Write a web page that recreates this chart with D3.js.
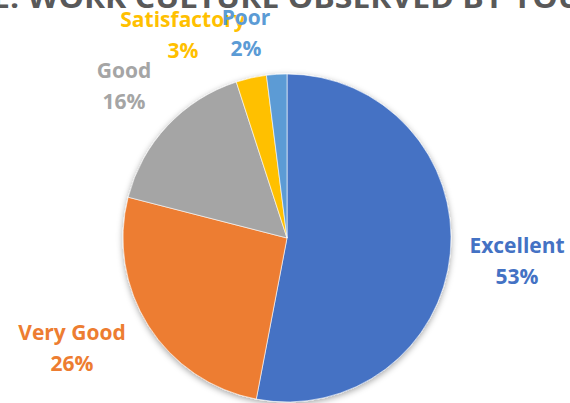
<!DOCTYPE html>
<html>
<head>
<meta charset="utf-8">
<script src="https://cdn.jsdelivr.net/npm/d3@7"></script>
<style>
  html, body { margin: 0; padding: 0; background: #fff; }
  svg { display: block; }
</style>
</head>
<body>
<svg id="chart" width="570" height="403"></svg>
<script>
// ---- data ----
const categories = ["Excellent", "Very Good", "Good", "Satisfactory", "Poor"];
const values = [53, 26, 16, 3, 2];
const percentLabels = ["53%", "26%", "16%", "3%", "2%"];
const titleText = "E: WORK CULTURE OBSERVED BY YOU";

// ---- styling / layout ----
const colors = ["#4472C4", "#ED7D31", "#A5A5A5", "#FFC000", "#5B9BD5"];
const W = 570, H = 403;
const cx = 287, cy = 238, R = 164;
// label centers (x, y of first line baseline)
const labelAnchors = [[517, 253], [72, 340], [124, 78], [183, 27], [246, 25]];

const svg = d3.select("#chart");
const defs = svg.append("defs");
const f = defs.append("filter").attr("id", "shadow")
  .attr("x", "-20%").attr("y", "-20%").attr("width", "140%").attr("height", "140%");
f.append("feDropShadow").attr("dx", 0).attr("dy", 2).attr("stdDeviation", 3)
  .attr("flood-color", "#000").attr("flood-opacity", 0.35);

// title (cut off at the top in the reference)
svg.append("text")
  .attr("x", -8).attr("y", 8)
  .attr("textLength", 590).attr("lengthAdjust", "spacingAndGlyphs")
  .attr("font-family", "'Open Sans', Lato, sans-serif")
  .attr("font-weight", 700).attr("font-size", 28)
  .attr("fill", "#595959")
  .text(titleText);

const pie = d3.pie().sort(null).value(d => d)(values);
const arc = d3.arc().innerRadius(0).outerRadius(R);

const g = svg.append("g").attr("transform", `translate(${cx},${cy})`);
g.append("g").attr("filter", "url(#shadow)")
  .selectAll("path").data(pie).join("path")
  .attr("d", arc)
  .attr("fill", (d, i) => colors[i])
  .attr("stroke", "#fff").attr("stroke-width", 0.6);

const labels = svg.append("g")
  .attr("font-family", "'Open Sans', Lato, sans-serif")
  .attr("font-weight", 700).attr("font-size", 21)
  .attr("text-anchor", "middle");

categories.forEach((c, i) => {
  const [lx, ly] = labelAnchors[i];
  const t = labels.append("text").attr("fill", colors[i]);
  t.append("tspan").attr("x", lx).attr("y", ly).text(c);
  t.append("tspan").attr("x", lx).attr("y", ly + 31).text(percentLabels[i]);
});
</script>
</body>
</html>
